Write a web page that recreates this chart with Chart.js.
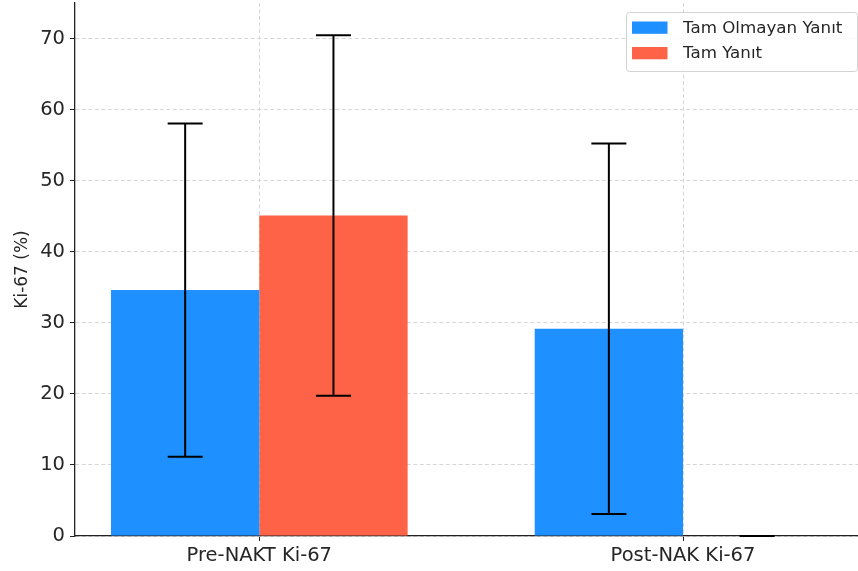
<!DOCTYPE html>
<html>
<head>
<meta charset="utf-8">
<script src="https://cdn.jsdelivr.net/npm/chart.js@4/dist/chart.umd.min.js"></script>
<style>
  html, body { margin: 0; padding: 0; background: #fff; overflow: hidden; }
  #wrap { width: 858px; height: 571px; position: relative; }
</style>
</head>
<body>
<div id="wrap"><canvas id="c"></canvas></div>
<script>
// Ki-67 (%) by response group, before and after neoadjuvant therapy
const categories = ['Pre-NAKT Ki-67', 'Post-NAK Ki-67'];
const seriesNames = ['Tam Olmayan Yanıt', 'Tam Yanıt'];
const incompleteMean = [34.6, 29.15];
const incompleteSD = [23.45, 26.07];
const completeMean = [45.1, 0];
const completeSD = [25.35, 0];
const yTicks = [0, 10, 20, 30, 40, 50, 60, 70];

const seriesColors = ['#1E90FF', '#FF6347'];
const errors = [incompleteSD, completeSD];

const toPoints = arr => arr.map((v, i) => ({ x: i, y: v }));

const FONT = 'DejaVu Sans';
const TEXT = '#262626';

// symmetric error bars with caps, placed from the bar elements and y scale
const errorBars = {
  id: 'errorBars',
  afterDatasetsDraw(chart) {
    const ctx = chart.ctx;
    const y = chart.scales.y;
    ctx.save();
    ctx.strokeStyle = '#000';
    ctx.lineWidth = 2;
    chart.data.datasets.forEach((ds, di) => {
      const meta = chart.getDatasetMeta(di);
      meta.data.forEach((bar, i) => {
        const m = ds.data[i].y, e = errors[di][i];
        const yHi = y.getPixelForValue(m + e);
        const yLo = y.getPixelForValue(m - e);
        const cx = bar.x, cap = 17.5;
        ctx.beginPath();
        ctx.moveTo(cx, yHi); ctx.lineTo(cx, yLo);
        ctx.moveTo(cx - cap, yHi); ctx.lineTo(cx + cap, yHi);
        ctx.moveTo(cx - cap, yLo); ctx.lineTo(cx + cap, yLo);
        ctx.stroke();
      });
    });
    ctx.restore();
  }
};

// framed legend in the upper right corner of the plot
const boxLegend = {
  id: 'boxLegend',
  afterDraw(chart) {
    const ctx = chart.ctx;
    const a = chart.chartArea;
    const w = 231, h = 59;
    const x0 = a.right - w - 1, y0 = a.top + 9;
    ctx.save();
    ctx.beginPath();
    ctx.roundRect(x0 + 0.5, y0 + 0.5, w, h, 3);
    ctx.fillStyle = 'rgba(255,255,255,0.85)';
    ctx.fill();
    ctx.strokeStyle = '#d3d3d3';
    ctx.lineWidth = 1;
    ctx.stroke();
    ctx.font = '16.7px "' + FONT + '"';
    ctx.textBaseline = 'middle';
    ctx.fillStyle = TEXT;
    chart.data.datasets.forEach((ds, i) => {
      const cy = y0 + 15.5 + i * 25.5;
      ctx.fillStyle = ds.backgroundColor;
      ctx.fillRect(x0 + 6, cy - 6, 35.5, 12.3);
      ctx.fillStyle = TEXT;
      ctx.fillText(ds.label, x0 + 57, cy + 1);
    });
    ctx.restore();
  }
};

new Chart(document.getElementById('c'), {
  type: 'bar',
  data: {
    datasets: [
      { label: seriesNames[0], data: toPoints(incompleteMean), backgroundColor: seriesColors[0] },
      { label: seriesNames[1], data: toPoints(completeMean), backgroundColor: seriesColors[1] }
    ]
  },
  plugins: [errorBars, boxLegend],
  options: {
    responsive: true,
    maintainAspectRatio: false,
    animation: false,
    categoryPercentage: 0.7,
    barPercentage: 1.0,
    layout: { padding: { top: 3, right: 0, left: 0, bottom: 0 } },
    plugins: {
      legend: { display: false },
      tooltip: { enabled: false }
    },
    scales: {
      x: {
        type: 'linear',
        offset: false,
        min: -0.435,
        max: 1.413,
        afterBuildTicks: s => { s.ticks = categories.map((_, i) => ({ value: i })); },
        afterFit: s => { s.height = 35; s.paddingLeft = 0; s.paddingRight = 0; },
        ticks: {
          callback: v => categories[v] ?? '',
          font: { family: FONT, size: 19.5 },
          color: TEXT,
          padding: 3,
          maxRotation: 0,
          autoSkip: false
        },
        grid: {
          offset: false,
          color: '#d6d6d6',
          lineWidth: 1,
          tickColor: '#222',
          tickLength: 5
        },
        border: { display: true, color: '#222', width: 1.3, dash: [4, 2.5] }
      },
      y: {
        min: 0,
        max: 75,
        afterBuildTicks: s => { s.ticks = yTicks.map(v => ({ value: v })); },
        afterFit: s => { s.width = 75; s.paddingTop = 0; s.paddingBottom = 0; },
        ticks: {
          font: { family: FONT, size: 19.5 },
          color: TEXT,
          padding: 5
        },
        grid: {
          color: '#d6d6d6',
          lineWidth: 1,
          tickColor: '#222',
          tickLength: 5
        },
        border: { display: true, color: '#222', width: 1.3, dash: [4, 2.5] },
        title: {
          display: true,
          text: 'Ki-67 (%)',
          font: { family: FONT, size: 17 },
          color: TEXT,
          padding: { top: 12, bottom: 0 }
        }
      }
    }
  }
});
</script>
</body>
</html>
